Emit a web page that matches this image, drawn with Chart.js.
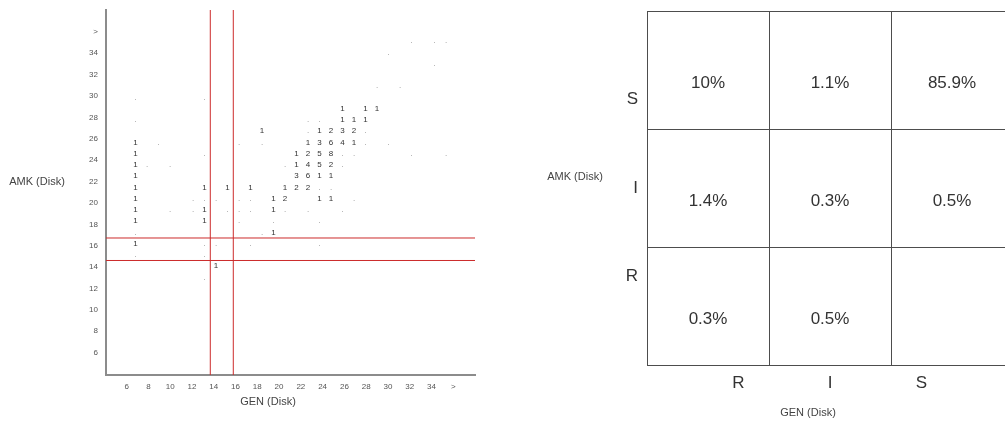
<!DOCTYPE html>
<html>
<head>
<meta charset="utf-8">
<script src="https://cdn.jsdelivr.net/npm/chart.js@4.4.1/dist/chart.umd.min.js"></script>
<style>
html, body { margin: 0; padding: 0; background: #fff; overflow: hidden; width: 1005px; height: 426px; }
#left { position: absolute; left: 0; top: 0; }
#right { position: absolute; left: 500px; top: 0; }
</style>
</head>
<body>
<canvas id="left" width="500" height="426"></canvas>
<canvas id="right" width="520" height="426"></canvas>
<script>
// scatterplot cells with a count: GEN zone, AMK zone, number of isolates
var numGen   = [6,6,6,6,6,6,6,6,6, 12,12,12, 13, 14, 16, 17, 18,18,18, 19,19, 20,20,20,20, 21,21,21,21,21, 22,22,22,22,22,22, 23,23,23,23,23,23, 24,24,24,24, 25,25,25, 26,26, 27];
var numAmk   = [25,24,23,22,21,20,19,18,16, 21,19,18, 14, 21, 21, 26, 20,19,17, 21,20, 24,23,22,21, 25,24,23,22,21, 26,25,24,23,22,20, 26,25,24,23,22,20, 28,27,26,25, 27,26,25, 28,27, 28];
var numCount = [1,1,1,1,1,1,1,1,1, 1,1,1, 1, 1, 1, 1, 1,1,1, 1,2, 1,1,3,2, 1,2,4,6,2, 1,3,5,5,1,1, 2,6,8,2,1,1, 1,1,3,4, 1,2,1, 1,1, 1];

// cells shown with a dot only
var dotGen = [6,12,6,8,15,17,12,7,9,19,11,12,13,15,16,9,11,14,15,15,6,12,13,6,12,12,
              21,22,21,26,26,28,24,25,30,33,24,22,23,25,16,19,21,24,18,22,17,16,22,
              27,29,30,32,33,28,32];
var dotAmk = [29,29,27,25,25,25,24,23,23,23,20,20,20,20,20,19,19,19,19,18,17,16,16,15,15,13,
              27,27,26,26,25,25,24,24,24,24,23,21,21,20,19,19,19,19,18,18,17,16,16,
              30,30,34,34,34,33,32];

// breakpoints (R | I | S)
var genBreaks = [12.5, 14.5];
var amkBreaks = [14.5, 16.5];

// axis tick labels
var zoneTicks = [6,8,10,12,14,16,18,20,22,24,26,28,30,32,34,36];
var zoneTickText = ['6','8','10','12','14','16','18','20','22','24','26','28','30','32','34','>'];

// category table (% of isolates)
var matCols = ['R', 'I', 'S'];
var matColTicks = [0.75, 1.5, 2.25];
var matRows = ['S', 'I', 'R'];
var matRowTicks = [2.25, 1.5, 0.75];
var pctS = [10, 1.1, 85.9];
var pctI = [1.4, 0.3, 0.5];
var pctR = [0.3, 0.5, null];

var FONT = "'Liberation Sans', Arial, sans-serif";
Chart.defaults.font.family = FONT;

var xMin = 3.43, xMax = 35.52, yMin = 4.32, yMax = 36.77;

var textLabels = {
  id: 'textLabels',
  afterDatasetsDraw: function (chart) {
    var ctx = chart.ctx;
    ctx.save();
    ctx.textAlign = 'center';
    ctx.textBaseline = 'middle';
    chart.data.datasets.forEach(function (ds, i) {
      if (!ds.texts) return;
      var meta = chart.getDatasetMeta(i);
      ctx.font = ds.textFont;
      ctx.fillStyle = ds.textColor;
      meta.data.forEach(function (pt, j) {
        if (ds.texts[j] == null) return;
        ctx.fillText(ds.texts[j], pt.x, pt.y + (ds.textShift || 0));
      });
    });
    ctx.restore();
  }
};

function axisTitles(list) {
  return {
    id: 'axisTitles',
    afterDraw: function (chart) {
      var ctx = chart.ctx;
      ctx.save();
      ctx.font = '11px ' + FONT;
      ctx.fillStyle = '#444';
      ctx.textAlign = 'center';
      ctx.textBaseline = 'middle';
      list.forEach(function (t) { ctx.fillText(t[0], t[1], t[2]); });
      ctx.restore();
    }
  };
}

// fix the axis box size and drop the extra room Chart.js keeps for edge labels
function fixSize(pos, size) {
  return function (s) {
    if (pos === 'left') s.width = size; else s.height = size;
    s.paddingTop = 0; s.paddingBottom = 0; s.paddingLeft = 0; s.paddingRight = 0;
  };
}

function zoneAxis(pos, min, max, size) {
  return {
    type: 'linear', position: pos, min: min, max: max,
    afterBuildTicks: function (s) { s.ticks = zoneTicks.map(function (v) { return { value: v }; }); },
    ticks: {
      autoSkip: false, maxRotation: 0, color: '#555', font: { size: 8 },
      padding: pos === 'left' ? 8 : 7,
      callback: function (v, i) { return zoneTickText[i]; }
    },
    grid: { display: false, drawTicks: false },
    border: { display: true, color: '#8c8c8c', width: 2 },
    afterFit: fixSize(pos, size)
  };
}

var breakLines = [];
genBreaks.forEach(function (b) {
  breakLines.push({ data: [{ x: b, y: yMin }, { x: b, y: yMax }], showLine: true, borderColor: '#cc2b2b', borderWidth: 1, pointRadius: 0 });
});
amkBreaks.forEach(function (b) {
  breakLines.push({ data: [{ x: xMin, y: b }, { x: xMax, y: b }], showLine: true, borderColor: '#cc2b2b', borderWidth: 1, pointRadius: 0 });
});

new Chart(document.getElementById('left'), {
  type: 'scatter',
  data: {
    datasets: [
      {
        data: numGen.map(function (g, i) { return { x: g, y: numAmk[i] }; }),
        pointRadius: 0,
        texts: numCount.map(String), textFont: '8px ' + FONT, textColor: '#333'
      },
      {
        data: dotGen.map(function (g, i) { return { x: g, y: dotAmk[i] }; }),
        pointRadius: 0,
        texts: dotGen.map(function () { return '.'; }), textFont: '8px ' + FONT, textColor: '#888'
      }
    ].concat(breakLines)
  },
  options: {
    responsive: false,
    animation: false,
    layout: { padding: { left: 0, top: 10, right: 25, bottom: 0 } },
    plugins: { legend: { display: false }, tooltip: { enabled: false } },
    scales: {
      x: { type: 'linear', display: false, min: xMin, max: xMax },
      y: { type: 'linear', display: false, min: yMin, max: yMax },
      x2: zoneAxis('bottom', 4.1, 38, 51),
      y2: zoneAxis('left', 3.9, 38.05, 106)
    }
  },
  plugins: [textLabels, axisTitles([['AMK (Disk)', 37, 182], ['GEN (Disk)', 268, 402]])]
});

var cellPts = [], cellText = [];
[pctS, pctI, pctR].forEach(function (row, r) {
  row.forEach(function (v, c) {
    cellPts.push({ x: c + 0.5, y: 2.5 - r });
    cellText.push(v == null ? null : v + '%');
  });
});

function cellAxis(pos, labelTicks, labels, size) {
  var all = [0, 1, 2, 3].concat(labelTicks).sort(function (a, b) { return a - b; });
  return {
    type: 'linear', position: pos, min: 0, max: 3,
    afterBuildTicks: function (s) { s.ticks = all.map(function (v) { return { value: v }; }); },
    ticks: {
      autoSkip: false, maxRotation: 0, color: '#333', font: { size: 17 },
      padding: pos === 'left' ? 9 : 8,
      callback: function (v) { var k = labelTicks.indexOf(v); return k < 0 ? '' : labels[k]; }
    },
    grid: {
      drawTicks: false, lineWidth: 1,
      color: function (c) { return Number.isInteger(c.tick.value) ? '#4d4d4d' : 'rgba(0,0,0,0)'; }
    },
    border: { display: true, color: '#4d4d4d', width: 1 },
    afterFit: fixSize(pos, size)
  };
}

new Chart(document.getElementById('right'), {
  type: 'scatter',
  data: {
    datasets: [{
      data: cellPts, pointRadius: 0,
      texts: cellText, textFont: '17px ' + FONT, textColor: '#333', textShift: 13
    }]
  },
  options: {
    responsive: false,
    animation: false,
    layout: { padding: { left: 0, top: 11, right: 7, bottom: 0 } },
    plugins: { legend: { display: false }, tooltip: { enabled: false } },
    scales: {
      x: cellAxis('bottom', matColTicks, matCols, 61),
      y: cellAxis('left', matRowTicks, matRows, 147)
    }
  },
  plugins: [textLabels, axisTitles([['AMK (Disk)', 75, 177], ['GEN (Disk)', 308, 413]])]
});
</script>
</body>
</html>
